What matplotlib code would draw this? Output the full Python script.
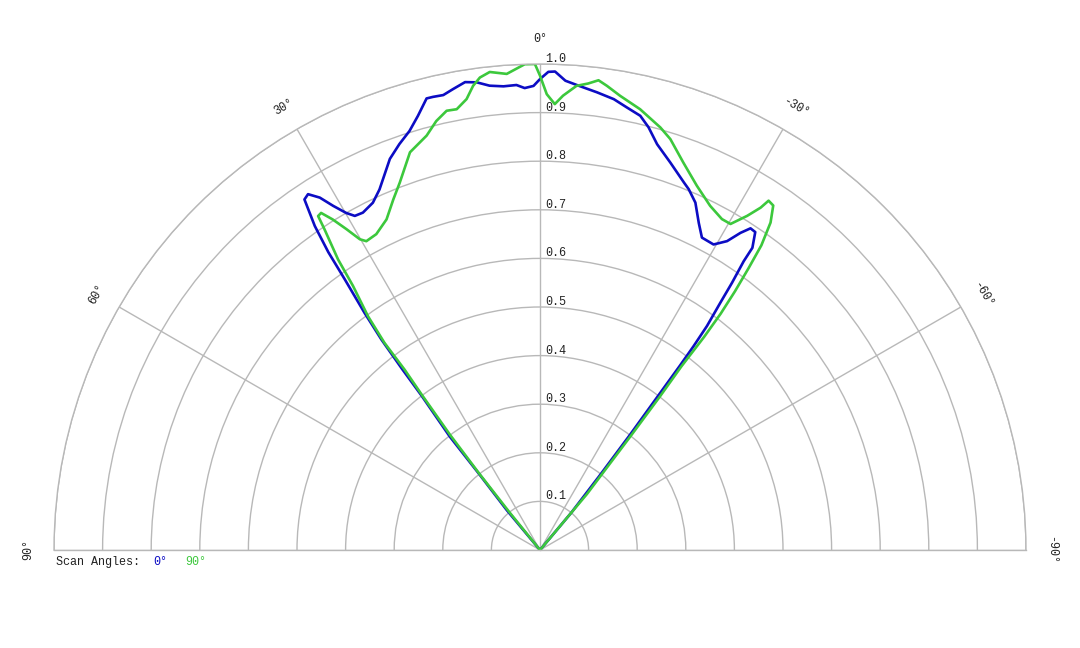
import numpy as np
import matplotlib
matplotlib.use("Agg")
import matplotlib.pyplot as plt
from matplotlib.transforms import offset_copy

# ---- data (angle in degrees, positive = left of 0°; normalized amplitude) ----
blue_theta = [40, 39.8, 38.7, 38.5, 37.5, 37.3, 37.0, 36.5, 35.8, 35.4, 34.8, 33.9, 33.1,
              32.0, 31.0, 29.9, 29.0, 27.7, 25.7, 24.0, 21.0, 19.1, 17.3, 15.7, 14.1, 13.3,
              12.0, 10.7, 9.1, 7.7, 6.2, 4.5, 2.9, 1.9, 0.8, 0.0, -1.0, -1.8, -3.1, -4.9,
              -7.1, -9.3, -11.1, -13.0, -14.4, -16.1, -18.6, -21.4, -22.4, -24.1, -25.9,
              -27.4, -29.6, -31.2, -32.3, -33.2, -34.1, -35.1, -35.2, -35.7, -36.1, -36.7,
              -37.0, -37.2, -37.4, -38.0, -38.7, -40.0, -40.0]
blue_r = [0.0, 0.107, 0.198, 0.298, 0.40, 0.468, 0.542, 0.607, 0.687, 0.752, 0.812, 0.869, 0.874,
          0.855, 0.826, 0.800, 0.786, 0.784, 0.793, 0.812, 0.862, 0.884, 0.903, 0.928, 0.958, 0.958,
          0.957, 0.965, 0.975, 0.971, 0.961, 0.957, 0.958, 0.951, 0.955, 0.969, 0.984, 0.985, 0.967, 0.958,
          0.949, 0.940, 0.928, 0.917, 0.898, 0.869, 0.841, 0.812, 0.803, 0.783, 0.748,
          0.724, 0.723, 0.743, 0.772, 0.791, 0.790, 0.760, 0.727, 0.677, 0.630, 0.575,
          0.525, 0.476, 0.414, 0.301, 0.198, 0.10, 0.0]

green_theta = [40, 39.0, 38.5, 38.0, 37.3, 36.9, 36.9, 36.35, 35.3, 34.8, 33.9, 33.6, 33.0,
               32.1, 31.1, 30.1, 29.35, 27.4, 24.9, 22.7, 20.9, 18.1, 15.3, 13.6, 12.0, 10.7,
               9.25, 8.2, 7.25, 6.0, 4.0, 1.8, 0.6, 0.0, -0.85, -1.9, -2.9, -4.5, -5.9, -7.1,
               -8.2, -10.0, -12.8, -15.9, -17.6, -20.3, -23.3, -26.3, -28.8, -30.3, -31.8,
               -32.8, -33.2, -34.1, -35.15, -36.0, -36.5, -37.0, -37.4, -37.6, -37.6, -38.0,
               -38.5, -40.0, -40.0]
green_r = [0.0, 0.1, 0.2, 0.3, 0.4, 0.464, 0.533, 0.597, 0.666, 0.728, 0.795, 0.825, 0.827,
           0.803, 0.771, 0.739, 0.729, 0.732, 0.750, 0.782, 0.809, 0.861, 0.884, 0.908, 0.924, 0.923,
           0.940, 0.965, 0.980, 0.989, 0.982, 1.0, 1.0, 0.976, 0.938, 0.918, 0.936, 0.958, 0.965, 0.974,
           0.965, 0.949, 0.930, 0.904, 0.887, 0.850, 0.816, 0.790, 0.777, 0.777, 0.809,
           0.838, 0.859, 0.856, 0.824, 0.775, 0.722, 0.667, 0.612, 0.553, 0.477, 0.40,
           0.30, 0.15, 0.0]

angle_ticks = [90, 60, 30, 0, -30, -60, -90]
radial_ticks = [0.1, 0.2, 0.3, 0.4, 0.5, 0.6, 0.7, 0.8, 0.9, 1.0]
series_names = ["0°", "90°"]
series_colors = ["#0c0cc4", "#3cc83c"]

FONT = ["Liberation Mono", "DejaVu Sans Mono"]
plt.rcParams['font.family'] = FONT
GRID = "#b8b8b8"

fig = plt.figure(figsize=(10.8, 6.48), dpi=100)
R = 486
cx, cy = 540, 550
# square box: the half-disk is centred vertically inside it
top = cy - 1.5 * R
ax = fig.add_axes([(cx - R) / 1080, (648 - (top + 2 * R)) / 648, 2 * R / 1080, 2 * R / 648],
                  projection='polar')
ax.set_theta_zero_location('N')
ax.set_theta_direction(1)
ax.set_thetamin(-90)
ax.set_thetamax(90)
ax.set_ylim(0, 1)

ax.set_rgrids(radial_ticks, labels=[])
ax.set_thetagrids(angle_ticks, labels=[])
ax.grid(True, color=GRID, lw=1.0)
for s in ax.spines.values():
    s.set_color(GRID)
    s.set_linewidth(1.0)
ax.tick_params(length=0)

for th, rr, c in zip([blue_theta, green_theta], [blue_r, green_r], series_colors):
    ax.plot(np.deg2rad(th), rr, color=c, lw=1.9, solid_joinstyle='round')

# radial labels
tr = offset_copy(ax.transData, fig=fig, x=5, y=-1, units='dots')
for v in radial_ticks:
    ax.text(0, v, f"{v:.1f}", transform=tr, ha='left', va='bottom',
            fontsize=8.5, color='#222222')

# angle labels
for a in angle_ticks:
    ax.text(np.deg2rad(a), 1.052, f"{a}°", rotation=a, rotation_mode='anchor',
            ha='center', va='center', fontsize=8.5, color='#222222', clip_on=False)

# legend
ly = 1 - 562 / 648
fig.text(56 / 1080, ly, "Scan Angles:", ha='left', va='center', fontsize=8.5, color='#222222')
fig.text(153 / 1080, ly, series_names[0], ha='left', va='center', fontsize=8.5, color=series_colors[0])
fig.text(185 / 1080, ly, series_names[1], ha='left', va='center', fontsize=8.5, color=series_colors[1])

fig.savefig("out.png", dpi=100)
